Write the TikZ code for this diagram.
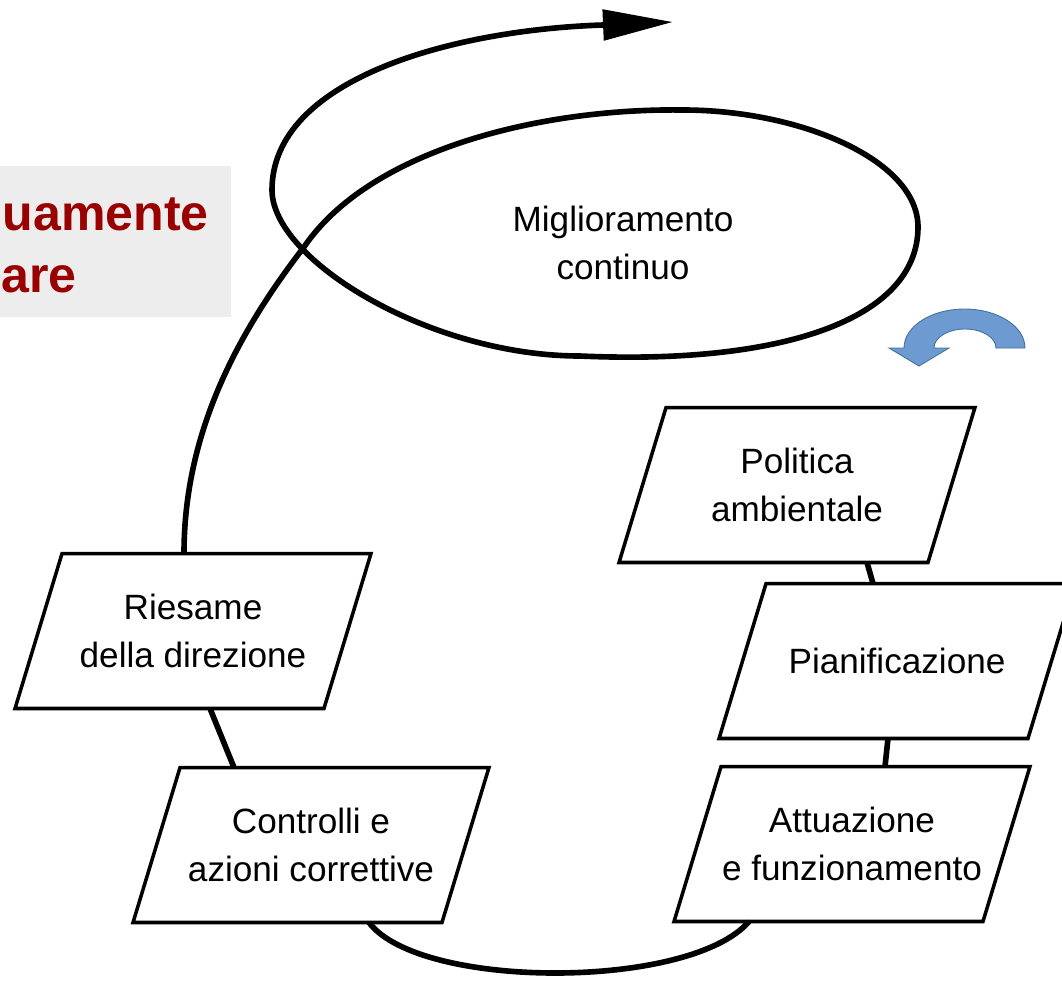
\documentclass[tikz,border=0pt]{standalone}
\usepackage{fontspec}
\setmainfont{Liberation Sans}
\usetikzlibrary{
  calc,positioning,
  arrows.meta
}
\definecolor{rosso}{HTML}{990000}
\definecolor{grigio}{HTML}{EDEDED}
\definecolor{blu}{HTML}{6D9BD1}
\definecolor{bordoblu}{HTML}{41719C}
\newcommand{\testo}{\fontsize{20}{27.3}\selectfont}
\newcommand{\titolo}{\fontsize{28.5}{35}\selectfont\bfseries}

\begin{document}
\begin{tikzpicture}[x=0.02cm,y=-0.02cm,
  fase/.style={rectangle,minimum width=6.18cm,minimum height=3.1cm,
    inner sep=0pt,outer sep=0pt,align=center,font=\testo},
  bordo/.style={line width=2pt,line join=miter},
  filo/.style={line width=3.2pt},
  freccia/.style={fill=blu,draw=bordoblu,line width=0.5pt}]

\useasboundingbox (0,0) rectangle (1062,981);
\clip (0,0) rectangle (1062,981);

\fill[grigio] (-10,166) rectangle (231,317);
\node[anchor=base east,inner sep=0pt,text=rosso,font=\titolo] (riga1) at (209,230) {uamente};
\node[anchor=base east,inner sep=0pt,text=rosso,font=\titolo] (riga2) at (77,292) {are};

\node[align=center,font=\testo] (mig) at (623,243) {Miglioramento\\continuo};

\node[fase] (pol) at (797,485) {Politica\\ambientale};
\node[fase] (pia) at (897,661) {Pianificazione};
\node[fase] (att) at (852,844) {Attuazione\\e funzionamento};
\node[fase] (ctl) at (311,845) {Controlli e\\azioni correttive};
\node[fase] (rie) at (193,631) {Riesame\\della direzione};
\coordinate (tip) at (673,22);

\foreach \n in {pol,pia,att,ctl,rie}
  \draw[bordo] ($(\n.north west)+(23.5,0)$) -- ($(\n.north east)+(23.5,0)$)
    -- ($(\n.south east)+(-23.5,0)$) -- ($(\n.south west)+(-23.5,0)$) -- cycle;

\draw[filo] ($(pol.south)+(70,0)$) -- ($(pia.north)+(-24,0)$);
\draw[filo] ($(pia.south)+(-9,0)$) -- ($(att.north)+(33,0)$);
\draw[filo] ($(att.south)+(-103,0)$) .. controls (690,990) and (420,990) .. ($(ctl.south)+(58,0)$);
\draw[filo] ($(ctl.north)+(-77,0)$) -- ($(rie.south)+(17,0)$);
\draw[filo,-{Triangle[length=1.4cm,width=0.6cm]}] ($(rie.north)+(-9,0)$)
  .. controls (184,430) and (240,330) .. (304,247)
  .. controls (370,150) and (540,108) .. (683,110)
  .. controls (800,110) and (918,160) .. (918,227)
  .. controls (918,320) and (780,365) .. (580,356)
  .. controls (430,356) and (272,260) .. (272,190)
  .. controls (272,80) and (450,30) .. (603,25) -- (tip);

\draw[freccia] (889,348) -- (919,366) -- (949,348) -- (934,348)
  arc[start angle=180,end angle=0,x radius=0.62cm,y radius=0.38cm] -- (1025,348)
  arc[start angle=0,end angle=180,x radius=1.21cm,y radius=0.78cm] -- cycle;
\end{tikzpicture}
\end{document}
